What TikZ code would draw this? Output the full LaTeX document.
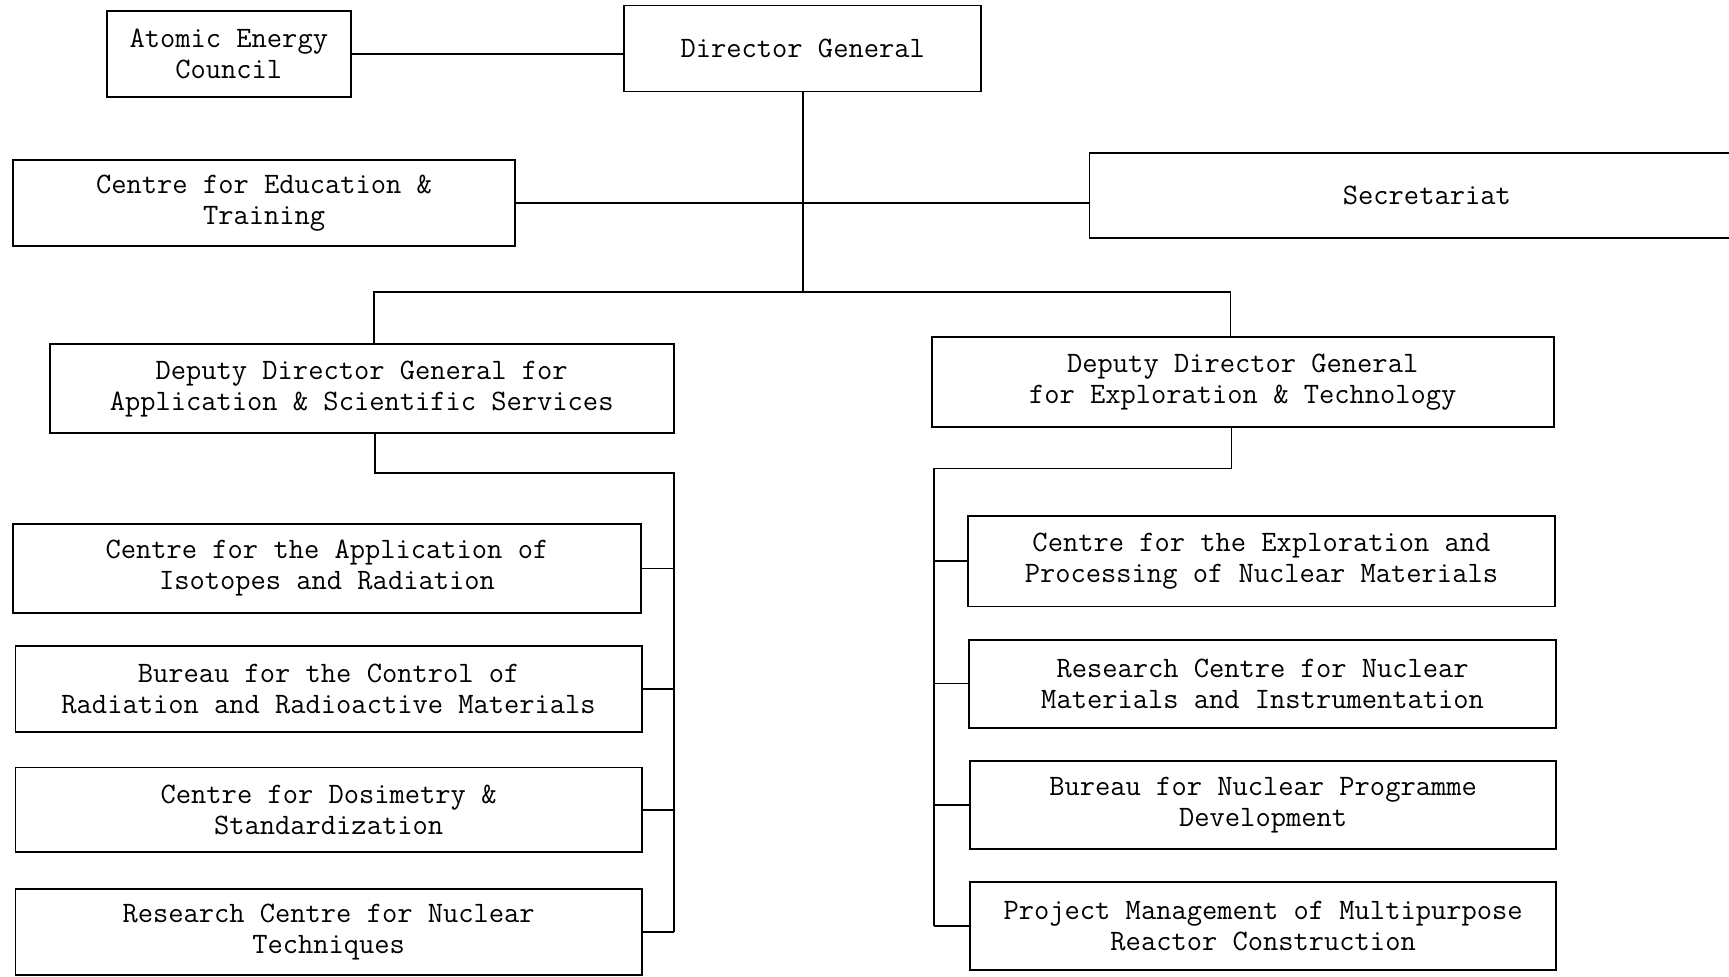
\documentclass[tikz,border=0pt]{standalone}
\usepackage{fontspec}
\usetikzlibrary{positioning,calc}
\tikzstyle{unit} = [draw, line width=1pt, inner sep=0pt, align=center, font=\fontsize{15.3}{16}\selectfont\ttfamily]
\tikzstyle{link} = [line width=0.8pt]

\begin{document}
\begin{tikzpicture}[x=0.02cm, y=-0.02cm]
\useasboundingbox (0,0) rectangle (1568,886);
\node[unit, minimum width=4.42cm, minimum height=1.56cm] (aec) at (207.5,49) {Atomic Energy\\Council};
\node[unit, minimum width=6.48cm, minimum height=1.56cm] (dg) at (728,44) {Director General};
\node[unit, minimum width=9.10cm, minimum height=1.56cm] (cet) at (239.5,184) {Centre for Education \&\\Training};
\node[unit, minimum width=12.24cm, minimum height=1.54cm] (sec) at (1294,177.5) {Secretariat};
\node[unit, minimum width=11.32cm, minimum height=1.62cm] (dda) at (328,352.5) {Deputy Director General for\\Application \& Scientific Services};
\node[unit, minimum width=11.28cm, minimum height=1.62cm] (dde) at (1127,346.5) {Deputy Director General\\for Exploration \& Technology};
\node[unit, minimum width=11.38cm, minimum height=1.62cm] (l1) at (296.5,515.5) {Centre for the Application of\\Isotopes and Radiation};
\node[unit, minimum width=11.36cm, minimum height=1.56cm] (l2) at (298,625) {Bureau for the Control of\\Radiation and Radioactive Materials};
\node[unit, minimum width=11.36cm, minimum height=1.54cm] (l3) at (298,734.5) {Centre for Dosimetry \&\\Standardization};
\node[unit, minimum width=11.36cm, minimum height=1.56cm] (l4) at (298,845) {Research Centre for Nuclear\\Techniques};
\node[unit, minimum width=10.64cm, minimum height=1.64cm] (r1) at (1144,509) {Centre for the Exploration and\\Processing of Nuclear Materials};
\node[unit, minimum width=10.64cm, minimum height=1.60cm] (r2) at (1145,620) {Research Centre for Nuclear\\Materials and Instrumentation};
\node[unit, minimum width=10.62cm, minimum height=1.60cm] (r3) at (1145.5,730) {Bureau for Nuclear Programme\\Development};
\node[unit, minimum width=10.62cm, minimum height=1.60cm] (r4) at (1145.5,840) {Project Management of Multipurpose\\Reactor Construction};
\coordinate (hub) at (728,265);
\coordinate (busL) at (339,265);
\coordinate (busR) at (1116,265);
\coordinate (elbowL) at (340,429);
\coordinate (spineL) at (611,429);
\coordinate (elbowR) at (1117,425);
\coordinate (spineR) at (847,425);
\draw[link] (aec.east) -- (aec.east -| dg.west);
\draw[link] (cet.east) -- (cet.east -| sec.west);
\draw[link] (dg.south) -- (hub);
\draw[link] (busL |- dda.north) -- (busL) -- (busR) -- (busR |- dde.north);
\draw[link] (elbowL |- dda.south) -- (elbowL) -- (spineL) -- (spineL |- l4.east);
\draw[link] (elbowR |- dde.south) -- (elbowR) -- (spineR) -- (spineR |- r4.west);
\foreach \b in {l1,l2,l3,l4}
  \draw[link] (\b.east) -- (\b.east -| spineL);
\foreach \b in {r1,r2,r3,r4}
  \draw[link] (\b.west) -- (\b.west -| spineR);
\end{tikzpicture}
\end{document}
